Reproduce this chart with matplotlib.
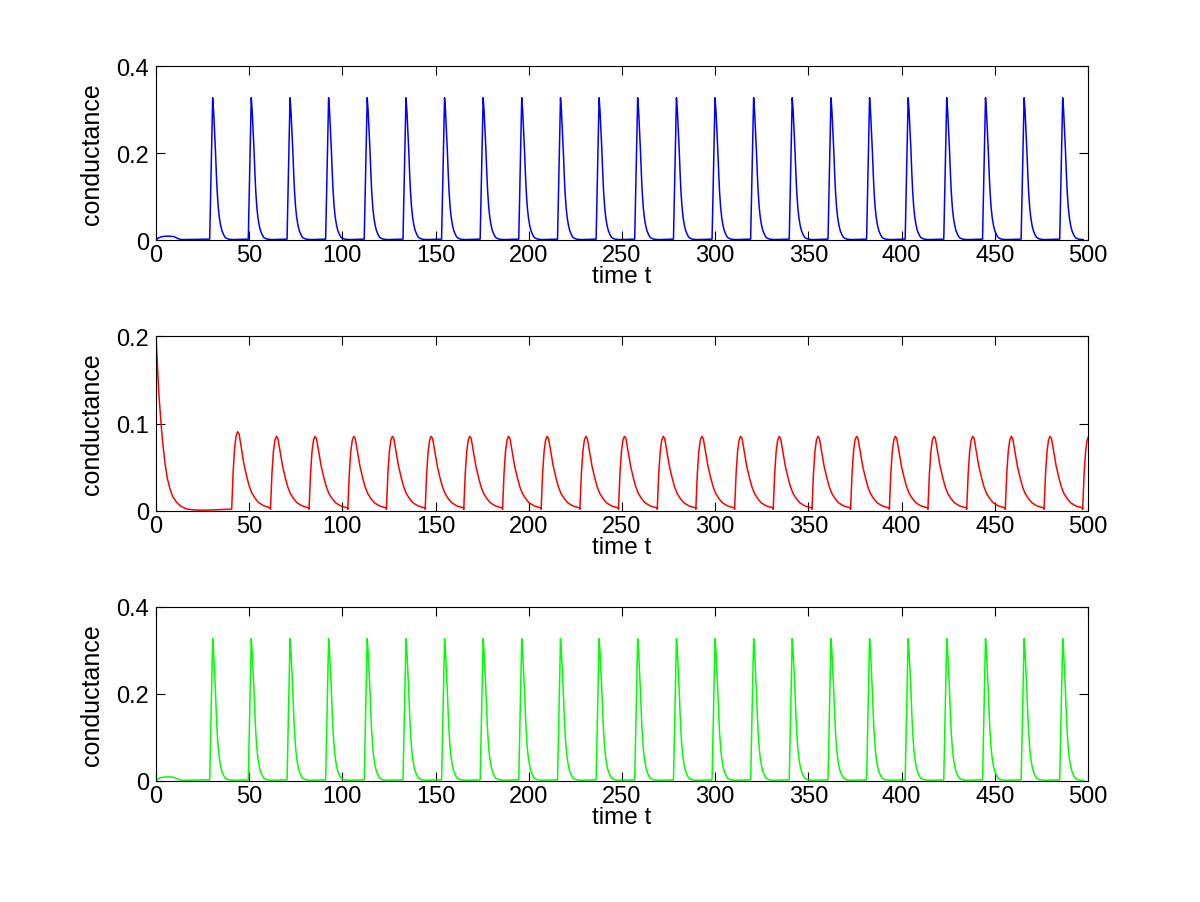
import numpy as np
import matplotlib
matplotlib.use("Agg")
import matplotlib.pyplot as plt

plt.rcParams['font.family'] = ['Liberation Sans', 'DejaVu Sans']

# spike peak times read from the top / bottom panels
spike_peaks = [30.4, 51.1, 71.9, 92.6, 113.3, 134.1, 154.8, 175.5, 196.2, 217.0,
               237.7, 258.4, 279.2, 299.9, 320.6, 341.3, 362.1, 382.8, 403.5,
               424.2, 445.0, 465.7, 486.4]
spike_height = 0.327
# one spike, offsets from its peak and conductance values
spike_offsets = [-1.6, -0.8, 0.0, 0.5, 1.0, 1.5, 2.0, 2.4, 3.0, 3.6, 4.3, 5.0,
                 6.0, 6.8, 8.5, 11.0]
spike_values = [0.002, 0.165, 0.327, 0.297, 0.25, 0.205, 0.15, 0.113, 0.075,
                0.051, 0.033, 0.021, 0.011, 0.0055, 0.002, 0.001]
# small bump at the start
bump_t = [0.0, 1.0, 2.5, 4.5, 7.0, 9.5, 11.0, 12.5, 14.0]
bump_g = [0.0, 0.004, 0.007, 0.0085, 0.0088, 0.008, 0.005, 0.002, 0.001]

# middle panel: initial decay, then slower pulses
red_init_t = [0, 0.5, 1.0, 1.5, 2.0, 2.7, 3.5, 4.8, 6, 7.5, 9, 11.1, 13.5, 16.5,
              20, 25]
red_init_g = [0.2, 0.178, 0.155, 0.135, 0.12, 0.1, 0.08, 0.055, 0.038, 0.025,
              0.016, 0.0096, 0.005, 0.002, 0.001, 0.0005]
red_onsets = [40.6, 61.4, 82.1, 102.9, 123.6, 144.4, 165.1, 185.9, 206.6, 227.4,
              248.1, 268.9, 289.6, 310.4, 331.1, 351.9, 372.6, 393.4, 414.1,
              434.9, 455.6, 476.4, 497.1]
red_heights = [0.0906] + [0.0853] * 22
# pulse shape from onset, as fraction of its height
pulse_offsets = [0, 0.8, 1.6, 2.4, 3.2, 4.0, 5.3, 6.5, 8.0, 9.3, 10.7, 12.5,
                 14.3, 17.0, 19.7, 20.6]
pulse_frac = [0.02, 0.5, 0.8, 0.95, 1.0, 0.97, 0.78, 0.6, 0.44, 0.32, 0.23,
              0.16, 0.106, 0.065, 0.044, 0.04]


def spike_train():
    t = list(bump_t)
    g = list(bump_g)
    for p in spike_peaks:
        t += [p + o for o in spike_offsets]
        g += [v * spike_height / 0.327 for v in spike_values]
    return t, g


def pulse_train():
    t = list(red_init_t)
    g = list(red_init_g)
    for on, h in zip(red_onsets, red_heights):
        t += [on + o for o in pulse_offsets]
        g += [f * h for f in pulse_frac]
    return t, g


def style(ax, yticks):
    ax.set_xlim(0, 500)
    ax.set_ylim(yticks[0], yticks[-1])
    ax.set_xticks(np.arange(0, 501, 50))
    ax.set_yticks(yticks)
    ax.set_yticklabels([f"{v:g}" for v in yticks])
    ax.tick_params(direction='in', length=6.5, width=0.8, top=True, right=True,
                   labelsize=17)
    ax.tick_params(axis='x', pad=3)
    ax.tick_params(axis='y', pad=5)
    for s in ax.spines.values():
        s.set_linewidth(0.8)
    ax.set_xlabel("time t", fontsize=17.5, labelpad=-1)
    ax.set_ylabel("conductance", fontsize=18, labelpad=9)


fig = plt.figure(figsize=(12, 9.03), dpi=100)
ax1 = fig.add_axes([0.13, 0.7331, 0.7767, 0.1927])
ax2 = fig.add_axes([0.13, 0.4333, 0.7767, 0.1931])
ax3 = fig.add_axes([0.13, 0.1343, 0.7767, 0.1924])

t, g = spike_train()
ax1.plot(t, g, color=(0, 0, 1), lw=1.1)
style(ax1, [0, 0.2, 0.4])

t, g = pulse_train()
ax2.plot(t, g, color=(1, 0, 0), lw=1.1)
style(ax2, [0, 0.1, 0.2])

t, g = spike_train()
ax3.plot(t, g, color=(0, 1, 0), lw=1.1)
style(ax3, [0, 0.2, 0.4])

fig.savefig("out.png", dpi=100)
